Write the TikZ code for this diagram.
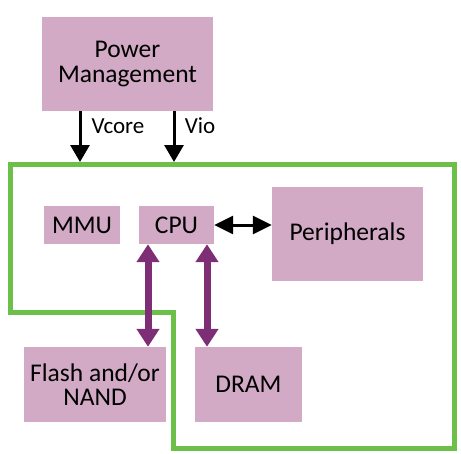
\documentclass[tikz,border=0pt]{standalone}
\usepackage{fontspec}
\setmainfont{Carlito}
\usetikzlibrary{arrows.meta}
\definecolor{boxpink}{RGB}{210,170,198}
\definecolor{chipgreen}{RGB}{108,192,74}
\definecolor{buspurple}{RGB}{126,46,116}
\begin{document}
\begin{tikzpicture}[x=1pt,y=-1pt,
  box/.style={fill=boxpink, draw=none, align=center, inner sep=0pt,
    font=\fontsize{25.5}{24.5}\selectfont, text=black},
  blackarrow/.style={line width=3pt, -{Triangle[length=17pt,width=19pt]}},
  blackdbl/.style={line width=3pt, {Triangle[length=19pt,width=18pt]}-{Triangle[length=19pt,width=18pt]}},
  purpledbl/.style={draw=buspurple, line width=7pt, {Triangle[length=18pt,width=22pt]}-{Triangle[length=18pt,width=22pt]}},
  lbl/.style={font=\fontsize{23}{23}\selectfont, inner sep=0pt}]
\useasboundingbox (0,0) rectangle (461,453);
% chip outline
\draw[chipgreen, line width=5pt, line join=miter]
  (10.5,164) -- (454,164) -- (454,448.5) -- (173,448.5) -- (173,312) -- (10.5,312) -- cycle;
% boxes
\node[box, minimum width=171pt, minimum height=94pt] (pm) at (127.5,64) {Power\\Management};
\node[box, minimum width=76pt, minimum height=38pt] (mmu) at (82,225) {MMU};
\node[box, minimum width=75pt, minimum height=38pt] (cpu) at (176.5,225) {CPU};
\node[box, minimum width=151pt, minimum height=94pt] (per) at (347.5,234) {Peripherals};
\node[box, minimum width=142pt, minimum height=75pt] (flash) at (95,384.5) {Flash and/or\\NAND};
\node[box, minimum width=107pt, minimum height=75pt] (dram) at (248.5,384.5) {DRAM};
% power arrows
\coordinate (vc) at (80,162);
\coordinate (vi) at (174,162);
\draw[blackarrow] (pm.south -| vc) -- (vc);
\draw[blackarrow] (pm.south -| vi) -- (vi);
\node[lbl] (vcl) at (118,126) {Vcore};
\node[lbl] (vil) at (200,126) {Vio};
% cpu - peripherals
\draw[blackdbl] (cpu.east) -- (per.west |- cpu.east);
% memory buses
\coordinate (fx) at (148,0);
\coordinate (dx) at (207,0);
\draw[purpledbl] (cpu.south -| fx) -- (flash.north -| fx);
\draw[purpledbl] (cpu.south -| dx) -- (dram.north -| dx);
\end{tikzpicture}
\end{document}
